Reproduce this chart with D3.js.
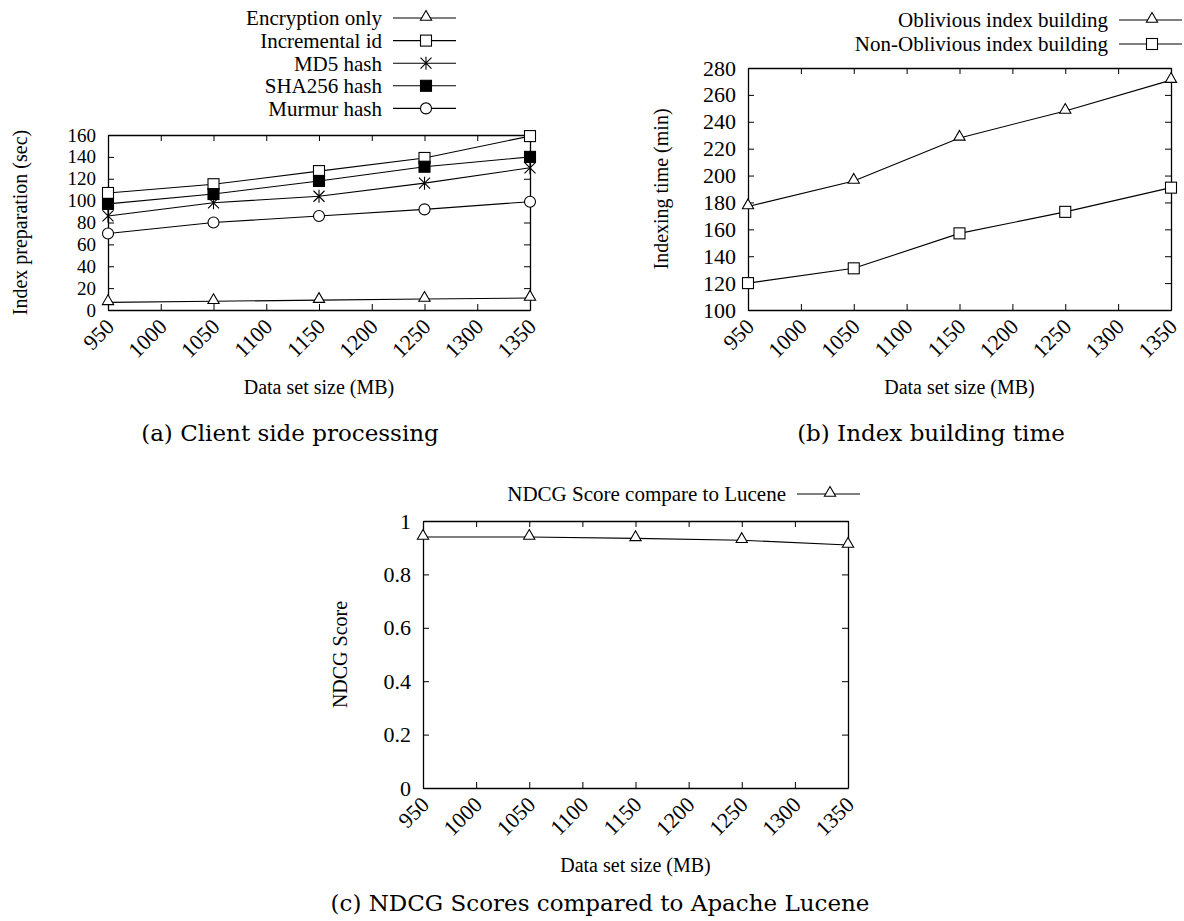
<!DOCTYPE html>
<html>
<head>
<meta charset="utf-8">
<script src="https://cdn.jsdelivr.net/npm/d3@7"></script>
<style>
  body { margin: 0; background: #fff; }
  svg { display: block; }
  svg text { font-family: 'Times New Roman', Times, 'Liberation Serif', serif; fill: #000; }
  svg text.caption { font-family: 'DejaVu Serif', serif; }
</style>
</head>
<body>
<svg width="1184" height="921"></svg>
<script>
// data set sizes (MB)
const sizes = [950, 1050, 1150, 1250, 1350];
const xTicks = [950, 1000, 1050, 1100, 1150, 1200, 1250, 1300, 1350];

// (a) client side processing, seconds
const encryptionOnly = [7, 8, 9, 10, 11];
const incrementalId = [107, 115, 127, 139, 159];
const md5Hash = [86, 98, 104, 116, 130];
const sha256Hash = [97, 106, 118, 131, 140];
const murmurHash = [70, 80, 86, 92, 99];

// (b) index building time, minutes
const oblivious = [177, 196, 228, 248, 271];
const nonOblivious = [120, 131, 157, 173, 191];

// (c) NDCG score
const ndcgScore = [0.94, 0.94, 0.935, 0.928, 0.91];

var svg = d3.select('svg');

function marker(g, type, x, y) {
  if (type === 'triangle') {
    g.append('path')
      .attr('d', d3.symbol().type(d3.symbolTriangle).size(55)())
      .attr('transform', 'translate(' + x + ',' + (y - 1) + ')')
      .attr('fill', '#fff').attr('stroke', '#000').attr('stroke-width', 1.1);
  } else if (type === 'square' || type === 'fsquare') {
    g.append('rect')
      .attr('x', x - 5.5).attr('y', y - 5.5).attr('width', 11).attr('height', 11)
      .attr('fill', type === 'fsquare' ? '#000' : '#fff')
      .attr('stroke', '#000').attr('stroke-width', 1.1);
  } else if (type === 'circle') {
    g.append('circle')
      .attr('cx', x).attr('cy', y).attr('r', 5.5)
      .attr('fill', '#fff').attr('stroke', '#000').attr('stroke-width', 1.1);
  } else if (type === 'star') {
    var s = 5.5;
    g.append('path')
      .attr('d', 'M' + (x - s) + ',' + (y - s) + 'L' + (x + s) + ',' + (y + s) +
        'M' + (x - s) + ',' + (y + s) + 'L' + (x + s) + ',' + (y - s) +
        'M' + x + ',' + (y - s - 1) + 'L' + x + ',' + (y + s + 1))
      .attr('stroke', '#000').attr('stroke-width', 1.1).attr('fill', 'none');
  }
}

function drawPanel(p) {
  var x = d3.scaleLinear().domain([950, 1350]).range([p.left, p.right]);
  var y = d3.scaleLinear().domain(p.yDomain).range([p.bottom, p.top]);

  var g = svg.append('g');

  // mirrored axes with inward ticks
  g.append('g')
    .attr('transform', 'translate(0,' + p.bottom + ')')
    .call(d3.axisBottom(x).tickValues(xTicks).tickSize(-6).tickSizeOuter(0).tickFormat(d3.format('d')))
    .call((a) => a.selectAll('text')
      .attr('y', 0).attr('dy', 0)
      .attr('text-anchor', 'end')
      .style('font-size', '22px')
      .attr('transform', 'translate(7,18) rotate(-45)'));
  g.append('g')
    .attr('transform', 'translate(0,' + p.top + ')')
    .call(d3.axisTop(x).tickValues(xTicks).tickSize(-6).tickSizeOuter(0).tickFormat(''));
  g.append('g')
    .attr('transform', 'translate(' + p.left + ',0)')
    .call(d3.axisLeft(y).tickValues(p.yTicks).tickSize(-6).tickSizeOuter(0).tickPadding(12).tickFormat(p.yFormat))
    .call((a) => a.selectAll('text').style('font-size', p.yTickSize));
  g.append('g')
    .attr('transform', 'translate(' + p.right + ',0)')
    .call(d3.axisRight(y).tickValues(p.yTicks).tickSize(-6).tickSizeOuter(0).tickFormat(''));

  g.selectAll('g').attr('font-family', null).attr('font-size', null);
  g.selectAll('.domain').attr('stroke', '#000').attr('stroke-width', 1.3);
  g.selectAll('.tick line').attr('stroke', '#000').attr('stroke-width', 1);

  // series
  var line = d3.line().x((d, i) => x(sizes[i])).y((d) => y(d));
  p.series.forEach(function (s) {
    g.append('path')
      .datum(s.values)
      .attr('d', line)
      .attr('fill', 'none')
      .attr('stroke', '#000')
      .attr('stroke-width', 1.1);
    s.values.forEach(function (v, i) {
      marker(g, s.marker, x(sizes[i]), y(v));
    });
  });

  // legend
  p.series.forEach(function (s, i) {
    var ly = p.legend.y + i * p.legend.step;
    g.append('text')
      .attr('x', p.legend.x)
      .attr('y', ly)
      .attr('dy', '0.35em')
      .attr('text-anchor', 'end')
      .style('font-size', '21px')
      .text(s.name);
    g.append('line')
      .attr('x1', p.legend.x + 11).attr('x2', p.legend.x + 74)
      .attr('y1', ly).attr('y2', ly)
      .attr('stroke', '#000').attr('stroke-width', 1.1);
    marker(g, s.marker, p.legend.x + 44, ly);
  });

  // axis titles
  g.append('text')
    .attr('x', (p.left + p.right) / 2)
    .attr('y', p.bottom + 84)
    .attr('text-anchor', 'middle')
    .style('font-size', '20px')
    .text('Data set size (MB)');
  g.append('text')
    .attr('transform', 'translate(' + p.yLabelX + ',' + (p.top + p.bottom) / 2 + ') rotate(-90)')
    .attr('text-anchor', 'middle')
    .attr('dy', '0.35em')
    .style('font-size', '20px')
    .text(p.yLabel);

  // caption
  g.append('text')
    .attr('class', 'caption')
    .attr('x', p.captionX)
    .attr('y', p.captionY)
    .attr('text-anchor', 'middle')
    .style('font-size', '23px')
    .text(p.caption);
}

drawPanel({
  left: 108, right: 530, top: 135, bottom: 310,
  yDomain: [0, 160], yTicks: d3.range(0, 161, 20), yFormat: d3.format('d'), yTickSize: '19px',
  yLabel: 'Index preparation (sec)', yLabelX: 20,
  caption: '(a) Client side processing', captionX: 290, captionY: 441,
  legend: { x: 382, y: 18, step: 22.6 },
  series: [
    { name: 'Encryption only', marker: 'triangle', values: encryptionOnly },
    { name: 'Incremental id', marker: 'square', values: incrementalId },
    { name: 'MD5 hash', marker: 'star', values: md5Hash },
    { name: 'SHA256 hash', marker: 'fsquare', values: sha256Hash },
    { name: 'Murmur hash', marker: 'circle', values: murmurHash }
  ]
});

drawPanel({
  left: 748, right: 1171, top: 68, bottom: 310,
  yDomain: [100, 280], yTicks: d3.range(100, 281, 20), yFormat: d3.format('d'), yTickSize: '22px',
  yLabel: 'Indexing time (min)', yLabelX: 661,
  caption: '(b) Index building time', captionX: 931, captionY: 441,
  legend: { x: 1108, y: 20, step: 24 },
  series: [
    { name: 'Oblivious index building', marker: 'triangle', values: oblivious },
    { name: 'Non-Oblivious index building', marker: 'square', values: nonOblivious }
  ]
});

drawPanel({
  left: 423, right: 848, top: 521, bottom: 788,
  yDomain: [0, 1], yTicks: [0, 0.2, 0.4, 0.6, 0.8, 1], yFormat: (d) => String(d), yTickSize: '22px',
  yLabel: 'NDCG Score', yLabelX: 340,
  caption: '(c) NDCG Scores compared to Apache Lucene', captionX: 600, captionY: 911,
  legend: { x: 786, y: 494, step: 24 },
  series: [
    { name: 'NDCG Score compare to Lucene', marker: 'triangle', values: ndcgScore }
  ]
});
</script>
</body>
</html>
